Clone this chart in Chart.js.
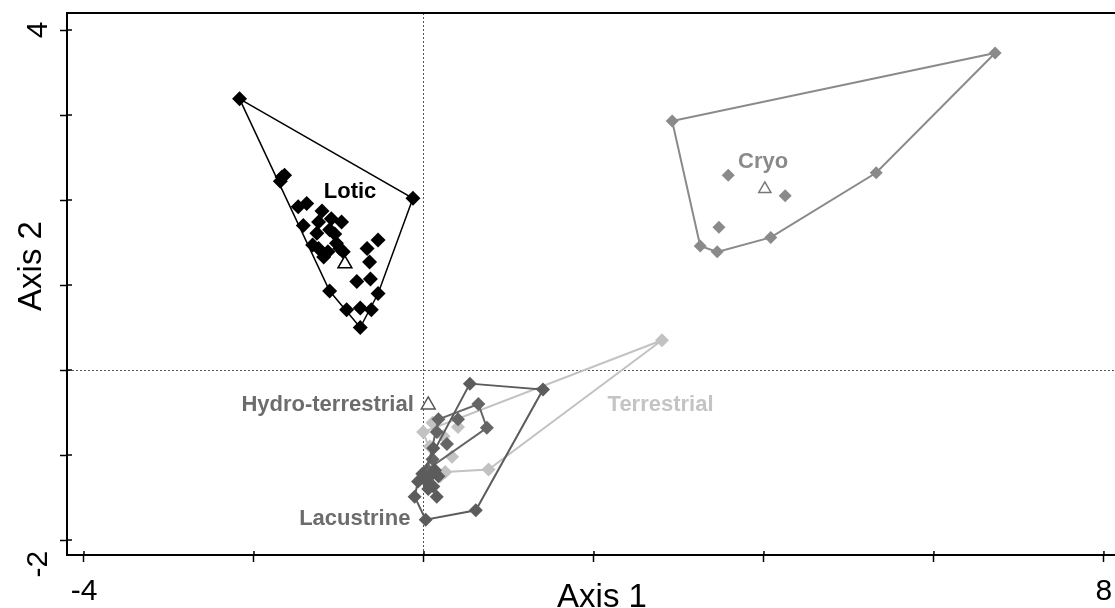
<!DOCTYPE html>
<html>
<head>
<meta charset="utf-8">
<script src="https://cdn.jsdelivr.net/npm/chart.js@4.4.1/dist/chart.umd.min.js"></script>
<style>
  html, body { margin: 0; padding: 0; background: #fff; }
  #wrap { width: 1115px; height: 608px; position: relative; }
</style>
</head>
<body>
<div id="wrap"><canvas id="ord"></canvas></div>
<script>
// ── Axis ticks ───────────────────────────────────────────────────────────────
const xTicks = [-4, -2, 0, 2, 4, 6, 8];
const yTicks = [-2, -1, 0, 1, 2, 3, 4];
const xTickLabels = [-4, 8];
const yTickLabels = [-2, 4];

// ── Site scores (Axis 1, Axis 2) ────────────────────────────────────────────
const loticPts = [
    [-2.17, 3.19], [-0.13, 2.02], [-1.67, 2.27], [-1.64, 2.29], [-1.69, 2.22],
    [-1.48, 1.92], [-1.38, 1.96], [-1.42, 1.70], [-1.24, 1.74], [-1.09, 1.78],
    [-0.97, 1.74], [-1.26, 1.61], [-1.11, 1.65], [-1.24, 1.43], [-1.18, 1.33],
    [-1.13, 1.39], [-1.03, 1.49], [-0.99, 1.43], [-0.95, 1.39], [-0.67, 1.43],
    [-0.54, 1.53], [-0.64, 1.27], [-0.79, 1.04], [-0.63, 1.07], [-1.11, 0.93],
    [-0.54, 0.90], [-0.91, 0.71], [-0.75, 0.73], [-0.62, 0.71], [-0.75, 0.50],
    [-1.31, 1.47], [-1.05, 1.60], [-1.20, 1.87],
];
const loticHull = [0, 1, 25, 29, 24, 0];
const loticCentre = [-0.93, 1.25];

const cryoPts = [
    [6.72, 3.73], [2.92, 2.93], [5.32, 2.32], [4.08, 1.56], [3.45, 1.39],
    [3.25, 1.46], [3.47, 1.68], [3.58, 2.29], [4.25, 2.05],
];
const cryoHull = [0, 1, 5, 4, 3, 2, 0];
const cryoCentre = [4.01, 2.13];

const lacustrinePts = [
    [0.54, -0.16], [1.40, -0.23], [0.61, -1.65], [0.02, -1.76], [-0.11, -1.49],
    [-0.07, -1.31], [0.03, -1.31], [0.11, -1.37], [0.15, -1.49], [0.07, -1.25],
    [0.17, -1.25], [0.11, -0.92], [0.05, -1.40], [0.13, -1.18], [-0.02, -1.22],
];
const lacustrineHull = [0, 1, 2, 3, 4, 5, 0];

const hydroPts = [
    [0.17, -0.58], [0.64, -0.40], [0.74, -0.68], [0.40, -0.58], [0.15, -0.73],
    [0.27, -0.87], [0.04, -1.17], [0.10, -1.05],
];
const hydroHull = [0, 1, 2, 6, 0];
const hydroCentre = [0.05, -0.41];

const terrestrialPts = [
    [2.80, 0.35], [0.76, -1.17], [0.19, -1.25], [-0.01, -0.73], [0.40, -0.67],
    [0.23, -0.78], [0.33, -1.02], [0.07, -0.90], [0.25, -1.20], [0.10, -0.62],
];
const terrestrialHull = [0, 1, 8, 2, 3, 0];

// ── Group names and where they are written (data units) ─────────────────────
const groupNames = ["Lotic", "Cryo", "Hydro-terrestrial", "Lacustrine", "Terrestrial"];
const groupLabelAt = [[-0.87, 2.10], [3.99, 2.45], [-0.12, -0.41], [-0.16, -1.75], [2.16, -0.41]];
const groupLabelAlign = ["center", "center", "right", "right", "left"];
const groupColors = ["#000000", "#8a8a8a", "#6c6c6c", "#6c6c6c", "#c4c4c4"];

// ── Dataset helpers ──────────────────────────────────────────────────────────
const toXY = (arr) => arr.map(([x, y]) => ({ x, y }));

function marks(arr, color, r) {
    return {
        data: toXY(arr),
        pointStyle: "rectRot",
        pointRadius: r,
        backgroundColor: color,
        borderColor: color,
        borderWidth: 0,
        showLine: false,
    };
}

function hull(arr, idx, color, w) {
    return {
        data: toXY(idx.map((i) => arr[i])),
        showLine: true,
        borderColor: color,
        borderWidth: w,
        pointRadius: 0,
        fill: false,
        tension: 0,
    };
}

function centre(c, color, r) {
    return {
        data: toXY([c]),
        pointStyle: "triangle",
        pointRadius: r,
        backgroundColor: "#ffffff",
        borderColor: color,
        borderWidth: 1.5,
        showLine: false,
    };
}

// ── Text, top border and inner tick marks ───────────────────────────────────
const textPlugin = {
    id: "ordText",
    afterDraw(chart) {
        const { ctx, chartArea: a, scales: { x, y } } = chart;
        ctx.save();

        // top border
        ctx.strokeStyle = "#000";
        ctx.lineWidth = 2;
        ctx.beginPath();
        ctx.moveTo(a.left - 1, a.top);
        ctx.lineTo(a.right, a.top);
        ctx.stroke();

        // inner halves of tick marks
        ctx.lineWidth = 1.5;
        ctx.beginPath();
        for (const v of xTicks) {
            const px = x.getPixelForValue(v);
            ctx.moveTo(px, a.bottom);
            ctx.lineTo(px, a.bottom - 4);
        }
        for (const v of yTicks) {
            const py = y.getPixelForValue(v);
            ctx.moveTo(a.left, py);
            ctx.lineTo(a.left + 5, py);
        }
        ctx.stroke();

        // group labels
        ctx.font = "bold 22px 'Liberation Sans', Arial, sans-serif";
        ctx.textBaseline = "middle";
        groupNames.forEach((name, i) => {
            ctx.fillStyle = groupColors[i];
            ctx.textAlign = groupLabelAlign[i];
            ctx.fillText(name, x.getPixelForValue(groupLabelAt[i][0]), y.getPixelForValue(groupLabelAt[i][1]));
        });

        // tick labels
        ctx.fillStyle = "#000";
        ctx.font = "30px 'Liberation Sans', Arial, sans-serif";
        ctx.textAlign = "center";
        ctx.textBaseline = "middle";
        for (const v of xTickLabels) {
            ctx.fillText(String(v), x.getPixelForValue(v), a.bottom + 37);
        }
        for (const v of yTickLabels) {
            ctx.save();
            ctx.translate(a.left - 28, y.getPixelForValue(v) + (v < 0 ? 24 : 0));
            ctx.rotate(-Math.PI / 2);
            ctx.fillText(String(v), 0, 0);
            ctx.restore();
        }

        // axis titles
        ctx.font = "33px 'Liberation Sans', Arial, sans-serif";
        ctx.textBaseline = "alphabetic";
        ctx.fillText("Axis 1", 602, 607);
        ctx.save();
        ctx.translate(41, 266);
        ctx.rotate(-Math.PI / 2);
        ctx.fillText("Axis 2", 0, 0);
        ctx.restore();

        ctx.restore();
    },
};

// ── Chart ────────────────────────────────────────────────────────────────────
const zeroGrid = (ctx) => (ctx.tick && ctx.tick.value === 0 ? "#555" : "rgba(0,0,0,0)");

new Chart(document.getElementById("ord"), {
    type: "scatter",
    data: {
        datasets: [
            centre(loticCentre, "#000", 8),
            centre(cryoCentre, "#777", 7),
            centre(hydroCentre, "#555", 8),
            marks(loticPts, "#000", 7.5),
            hull(loticPts, loticHull, "#000", 1.5),
            marks(cryoPts, "#8a8a8a", 6.5),
            hull(cryoPts, cryoHull, "#8a8a8a", 2),
            marks(lacustrinePts, "#5c5c5c", 7),
            hull(lacustrinePts, lacustrineHull, "#5c5c5c", 2),
            marks(hydroPts, "#656565", 7),
            hull(hydroPts, hydroHull, "#656565", 2),
            marks(terrestrialPts, "#c2c2c2", 7),
            hull(terrestrialPts, terrestrialHull, "#c2c2c2", 2),
        ],
    },
    options: {
        responsive: true,
        maintainAspectRatio: false,
        animation: false,
        events: [],
        layout: { autoPadding: false, padding: { top: 13, right: 0, left: 0, bottom: 0 } },
        plugins: {
            legend: { display: false },
            tooltip: { enabled: false },
        },
        scales: {
            x: {
                type: "linear",
                min: -4.2,
                max: 8.13,
                afterBuildTicks(axis) {
                    axis.ticks = xTicks.map((v) => ({ value: v }));
                },
                afterFit(axis) {
                    axis.height = 53;
                },
                ticks: { display: false },
                grid: {
                    color: zeroGrid,
                    lineWidth: 1,
                    tickLength: 7,
                    tickColor: "#000",
                    tickWidth: 1.5,
                },
                border: { display: true, color: "#000", width: 2, dash: [2, 2] },
            },
            y: {
                type: "linear",
                min: -2.176,
                max: 4.2,
                afterBuildTicks(axis) {
                    axis.ticks = yTicks.map((v) => ({ value: v }));
                },
                afterFit(axis) {
                    axis.width = 67;
                },
                ticks: { display: false },
                grid: {
                    color: zeroGrid,
                    lineWidth: 1,
                    tickLength: 7,
                    tickColor: "#000",
                    tickWidth: 1.5,
                },
                border: { display: true, color: "#000", width: 2, dash: [2, 2] },
            },
        },
    },
    plugins: [textPlugin],
});
</script>
</body>
</html>
